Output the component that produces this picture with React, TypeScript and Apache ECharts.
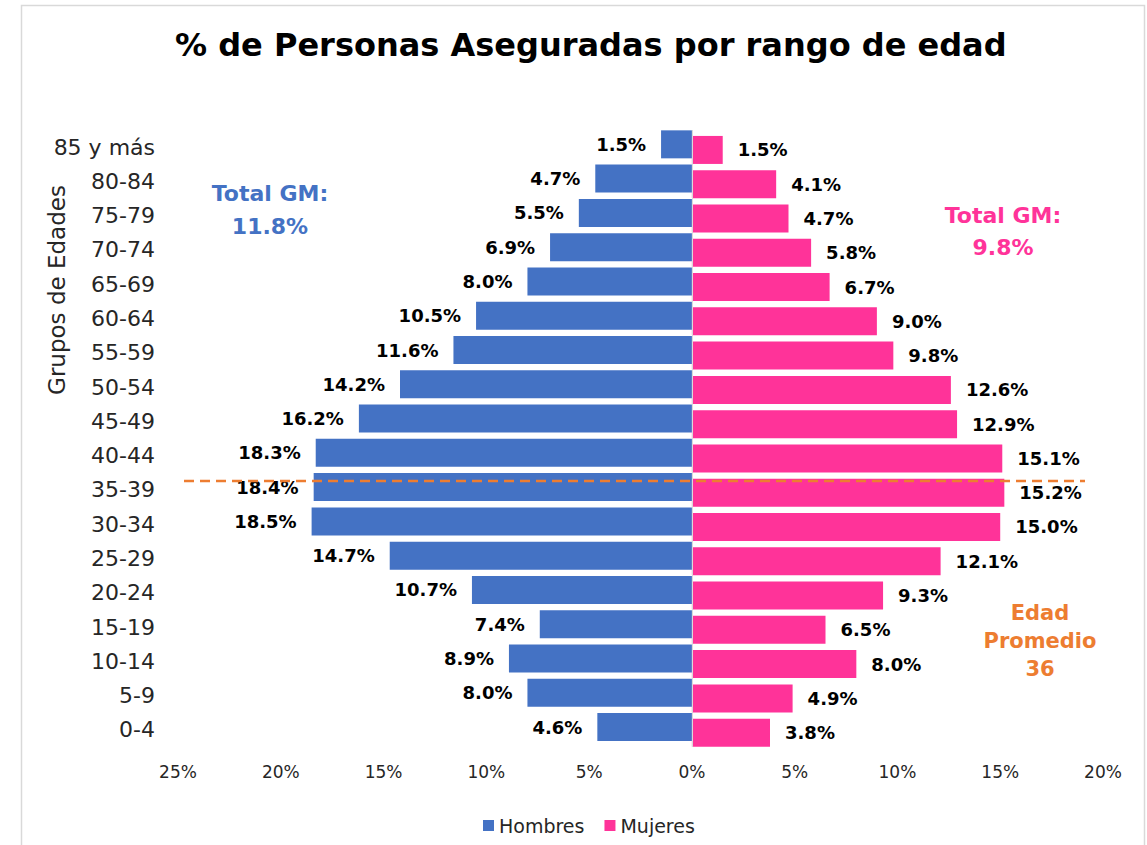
import React, { useEffect, useRef } from 'react';
import * as echarts from 'echarts';

const categories = ['0-4', '5-9', '10-14', '15-19', '20-24', '25-29', '30-34', '35-39', '40-44', '45-49', '50-54', '55-59', '60-64', '65-69', '70-74', '75-79', '80-84', '85 y más'];
const hombres = [4.6, 8.0, 8.9, 7.4, 10.7, 14.7, 18.5, 18.4, 18.3, 16.2, 14.2, 11.6, 10.5, 8.0, 6.9, 5.5, 4.7, 1.5];
const mujeres = [3.8, 4.9, 8.0, 6.5, 9.3, 12.1, 15.0, 15.2, 15.1, 12.9, 12.6, 9.8, 9.0, 6.7, 5.8, 4.7, 4.1, 1.5];
const xMin = -25;
const xMax = 20;
const xStep = 5;
const totalHombres = '11.8%';
const totalMujeres = '9.8%';
const edadPromedio = 36;

const FONT = 'DejaVu Sans';
const BLUE = '#4472C4';
const PINK = '#FF3399';
const ORANGE = '#ED7D31';

export default function App() {
  const ref = useRef<HTMLDivElement>(null);
  useEffect(() => {
    if (!ref.current) return;
    const chart = echarts.init(ref.current, undefined, { renderer: 'svg' });
    const labelFmt = (p: any) => Math.abs(p.value).toFixed(1) + '%';
    chart.setOption({
      animation: false,
      backgroundColor: '#ffffff',
      textStyle: { fontFamily: FONT },
      title: {
        text: '% de Personas Aseguradas por rango de edad',
        left: 170,
        top: 24,
        textStyle: { fontFamily: FONT, fontSize: 32, fontWeight: 'bold', color: '#000000' },
      },
      legend: {
        data: ['Hombres', 'Mujeres'],
        left: 478,
        top: 811,
        icon: 'rect',
        itemWidth: 11,
        itemHeight: 11,
        itemGap: 20,
        textStyle: { fontFamily: FONT, fontSize: 19, color: '#262626' },
      },
      grid: { left: 178, right: 44, top: 130, bottom: 98, containLabel: false },
      xAxis: {
        type: 'value',
        min: xMin,
        max: xMax,
        interval: xStep,
        axisLine: { show: false },
        axisTick: { show: false },
        splitLine: { show: false },
        axisLabel: {
          formatter: (v: number) => Math.abs(v) + '%',
          fontFamily: FONT,
          fontSize: 17,
          color: '#262626',
          margin: 16,
        },
      },
      yAxis: {
        type: 'category',
        data: categories,
        axisLine: { show: false, onZero: false },
        axisTick: { show: false },
        axisLabel: { fontFamily: FONT, fontSize: 22, color: '#262626', margin: 23 },
      },
      series: [
        {
          name: 'Hombres',
          type: 'bar',
          data: hombres.map((v) => -v),
          barWidth: 28,
          barGap: '-80%',
          itemStyle: { color: BLUE },
          label: {
            show: true,
            position: 'left',
            distance: 15,
            formatter: labelFmt,
            fontFamily: FONT,
            fontSize: 18,
            fontWeight: 'bold',
            color: '#000000',
          },
          markLine: {
            silent: true,
            symbol: 'none',
            label: { show: false },
            lineStyle: { color: '#d9d9d9', type: 'solid', width: 1 },
            data: [{ xAxis: 0 }],
          },
        },
        {
          name: 'Mujeres',
          type: 'bar',
          data: mujeres,
          barWidth: 28,
          barGap: '-80%',
          itemStyle: { color: PINK },
          label: {
            show: true,
            position: 'right',
            distance: 15,
            formatter: labelFmt,
            fontFamily: FONT,
            fontSize: 18,
            fontWeight: 'bold',
            color: '#000000',
          },
        },
      ],
      graphic: [
        {
          type: 'rect',
          silent: true,
          z: -10,
          shape: { x: 21.5, y: 5.5, width: 1123, height: 860 },
          style: { fill: 'none', stroke: '#d9d9d9', lineWidth: 1.5 },
        },
        {
          type: 'text',
          x: 57,
          y: 290,
          rotation: Math.PI / 2,
          style: {
            text: 'Grupos de Edades',
            font: `23px "${FONT}"`,
            fill: '#262626',
            align: 'center',
            verticalAlign: 'middle',
          },
        },
        {
          type: 'line',
          silent: true,
          z: 100,
          shape: { x1: 184, y1: 481, x2: 1085, y2: 481 },
          style: { stroke: ORANGE, lineWidth: 2.5, lineDash: [10, 6] },
        },
        {
          type: 'text',
          x: 270,
          y: 210,
          style: {
            text: 'Total GM:\n' + totalHombres,
            font: `bold 22px "${FONT}"`,
            fill: BLUE,
            align: 'center',
            verticalAlign: 'middle',
            lineHeight: 33,
          },
        },
        {
          type: 'text',
          x: 1003,
          y: 231,
          style: {
            text: 'Total GM:\n' + totalMujeres,
            font: `bold 22px "${FONT}"`,
            fill: PINK,
            align: 'center',
            verticalAlign: 'middle',
            lineHeight: 32,
          },
        },
        {
          type: 'text',
          x: 1040,
          y: 641,
          style: {
            text: 'Edad\nPromedio\n' + edadPromedio,
            font: `bold 21px "${FONT}"`,
            fill: ORANGE,
            align: 'center',
            verticalAlign: 'middle',
            lineHeight: 28,
          },
        },
      ],
    });
    return () => chart.dispose();
  }, []);
  return (
    <div
      ref={ref}
      style={{ position: 'absolute', left: 0, top: 0, width: 1147, height: 845, background: '#fff' }}
    />
  );
}
